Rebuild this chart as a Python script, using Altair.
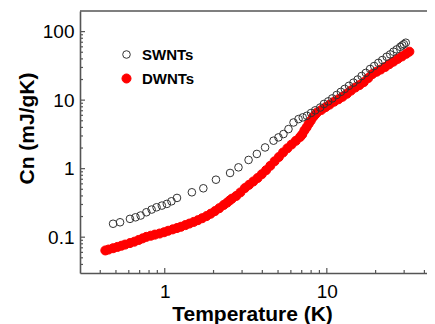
import altair as alt
import pandas as pd

# ---- data ----
swnt_T = [0.48, 0.53, 0.61, 0.66, 0.71, 0.77, 0.83, 0.89, 0.96, 1.03, 1.10, 1.19,
          1.47, 1.73, 2.07, 2.53, 2.85, 3.29, 3.70, 4.16, 4.69, 5.03, 5.40, 5.80,
          6.23, 6.69, 7.10, 7.53, 8.00, 8.48, 9.10, 9.60, 10.2, 10.8, 11.5, 12.2,
          12.9, 13.7, 14.6, 15.5, 16.4, 17.4, 18.5, 19.6, 20.8, 22.0, 23.4, 24.6,
          25.8, 27.0, 28.4, 29.2, 29.9, 30.7]
swnt_C = [0.157, 0.165, 0.185, 0.195, 0.207, 0.231, 0.253, 0.273, 0.289, 0.306, 0.334, 0.374,
          0.452, 0.517, 0.69, 0.865, 1.045, 1.34, 1.64, 2.04, 2.56, 2.86, 3.20, 3.78,
          4.72, 5.29, 5.60, 5.91, 6.50, 7.10, 7.80, 8.80, 9.6, 10.6, 11.9, 13.2,
          14.6, 16.2, 18.0, 20.0, 22.5, 25.0, 28.5, 31.5, 35.0, 38.5, 43.0, 46.5,
          51.0, 55.0, 60.0, 63.0, 65.5, 68.9]

dwnt_T = [0.43, 0.45, 0.48, 0.51, 0.54, 0.57, 0.61, 0.65, 0.69, 0.73, 0.77, 0.82,
          0.87, 0.93, 0.99, 1.05, 1.12, 1.19, 1.26, 1.34, 1.42, 1.51, 1.60, 1.70,
          1.81, 1.92, 2.04, 2.17, 2.31, 2.43, 2.52, 2.60, 2.76, 2.93, 3.12, 3.31, 3.52, 3.74,
          3.97, 4.22, 4.48, 4.76, 5.06, 5.37, 5.71, 6.06, 6.44, 6.84, 7.05, 7.27, 7.50, 7.72,
          7.95, 8.20, 8.45, 8.71, 9.26, 9.83, 10.4, 11.1, 11.8, 12.5, 13.3, 14.1, 15.0, 15.9,
          16.9, 18.0, 19.1, 20.3, 21.5, 22.9, 24.3, 25.8, 27.4, 29.1, 30.9, 32.3]
dwnt_C = [0.064, 0.066, 0.069, 0.072, 0.075, 0.078, 0.082, 0.086, 0.091, 0.096, 0.101, 0.105,
          0.109, 0.113, 0.118, 0.124, 0.130, 0.136, 0.142, 0.150, 0.158, 0.167, 0.177, 0.189,
          0.203, 0.220, 0.240, 0.265, 0.295, 0.320, 0.345, 0.365, 0.40, 0.45, 0.52, 0.58, 0.65, 0.73,
          0.83, 0.95, 1.10, 1.28, 1.48, 1.72, 1.98, 2.25, 2.55, 2.90, 3.15, 3.60, 4.00, 4.50,
          5.00, 5.60, 6.10, 6.60, 7.20, 7.90, 8.60, 9.50, 10.3, 11.2, 12.4, 13.8, 15.3, 16.6,
          18.3, 21.0, 24.0, 26.0, 28.0, 30.5, 33.5, 36.5, 40.0, 43.5, 47.5, 51.0]

series_names = ["SWNTs", "DWNTs"]
x_major = [1, 10]
x_minor = [0.4, 0.5, 0.6, 0.7, 0.8, 0.9, 2, 3, 4, 5, 6, 7, 8, 9, 20, 30, 40]
y_major = [0.1, 1, 10, 100]
y_minor = [0.04, 0.05, 0.06, 0.07, 0.08, 0.09,
           0.2, 0.3, 0.4, 0.5, 0.6, 0.7, 0.8, 0.9,
           2, 3, 4, 5, 6, 7, 8, 9,
           20, 30, 40, 50, 60, 70, 80, 90]
x_domain = [0.3, 41.5]
y_domain = [0.03, 200]

W, H = 347, 262
FONT = "Liberation Sans"
AXC = "#555555"

df = pd.concat([
    pd.DataFrame({"T": dwnt_T, "C": dwnt_C, "series": "DWNTs"}),
    pd.DataFrame({"T": swnt_T, "C": swnt_C, "series": "SWNTs"}),
], ignore_index=True)

xs = alt.Scale(type="log", domain=x_domain, nice=False)
ys = alt.Scale(type="log", domain=y_domain, nice=False)

x_axis = alt.Axis(
    values=x_major, format="~g", title="Temperature (K)", grid=False,
    domain=True, domainColor=AXC, domainWidth=1.6,
    ticks=False, tickSize=0, labelPadding=9, labelFontSize=19, labelFont=FONT,
    labelColor="black", titleFontSize=21, titleFont=FONT, titleFontWeight="bold",
    titleColor="black", titleBaseline="alphabetic", titleX=172, titleY=47)
y_axis = alt.Axis(
    values=y_major, format="~g", title="Cn (mJ/gK)", grid=False,
    domain=True, domainColor=AXC, domainWidth=1.6,
    ticks=False, tickSize=0, labelPadding=6, labelFontSize=19, labelFont=FONT,
    labelColor="black", titleFontSize=21, titleFont=FONT, titleFontWeight="bold",
    titleColor="black", titleAngle=270, titleBaseline="alphabetic",
    titleAlign="center", titleX=-47, titleY=117)

legend = alt.Legend(title=None, orient="none", legendX=39, legendY=36, padding=0,
                    labelFontSize=15, labelFontWeight="bold", labelFont=FONT,
                    labelColor="black", symbolStrokeWidth=1,
                    labelOffset=8, rowPadding=8)

points = alt.Chart(df).mark_point(shape="circle", opacity=1, strokeWidth=1).encode(
    x=alt.X("T:Q", scale=xs, axis=x_axis),
    y=alt.Y("C:Q", scale=ys, axis=y_axis),
    fill=alt.Fill("series:N", scale=alt.Scale(domain=series_names,
                                               range=["transparent", "#ff0000"]), legend=legend),
    stroke=alt.Stroke("series:N", scale=alt.Scale(domain=series_names,
                                                   range=["#333333", "#ff0000"]), legend=legend),
    size=alt.Size("series:N", scale=alt.Scale(domain=series_names, range=[58, 82]),
                  legend=legend),
)

def xticks(vals, length):
    return alt.Chart(pd.DataFrame({"T": vals})).mark_rule(color=AXC, strokeWidth=1.2).encode(
        x=alt.X("T:Q", scale=xs, axis=x_axis),
        y=alt.value(H), y2=alt.value(H - length))

def yticks(vals, length):
    return alt.Chart(pd.DataFrame({"C": vals})).mark_rule(color=AXC, strokeWidth=1.2).encode(
        y=alt.Y("C:Q", scale=ys, axis=y_axis),
        x=alt.value(0), x2=alt.value(length))

top_line = alt.Chart(pd.DataFrame({"T": [x_domain[0]]})).mark_rule(
    color=AXC, strokeWidth=1.6).encode(
    x=alt.value(0), x2=alt.value(W), y=alt.value(0))

chart = alt.layer(
    points,
    xticks(x_major, 5), xticks(x_minor, 3),
    yticks(y_major, 5), yticks(y_minor, 3),
    top_line,
).properties(
    width=W, height=H,
    autosize=alt.AutoSizeParams(type="none"),
    padding={"left": 72, "top": 3, "right": 0, "bottom": 51},
    background="white",
).configure_view(stroke=None)

chart.save("out.html", embed_options={"renderer": "svg", "actions": False})
